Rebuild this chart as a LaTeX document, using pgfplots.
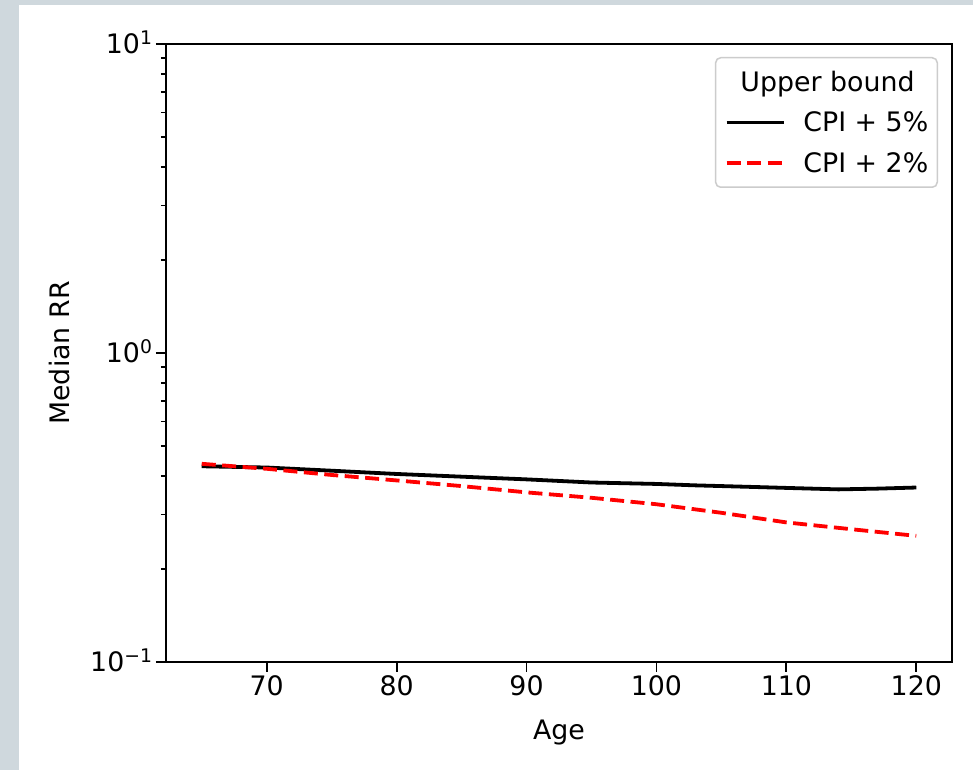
\documentclass[border=0pt]{standalone}
\usepackage{fontspec}
\setmainfont{DejaVu Sans}
\usepackage{pgfplots}
\pgfplotsset{compat=1.18}
\definecolor{sideband}{RGB}{207,216,221}
\definecolor{legedge}{RGB}{204,204,204}

\begin{document}
\begin{tikzpicture}
  % page background: grey strips on top and left, white elsewhere
  \fill[sideband] (-166pt,-108pt) rectangle (807pt,662pt);
  \fill[white] (-147pt,-108pt) rectangle (807pt,657pt);
  \useasboundingbox (-166pt,-108pt) rectangle (807pt,662pt);
  \begin{axis}[
      at={(0pt,0pt)}, anchor=south west,
      scale only axis, width=786pt, height=618pt,
      font=\fontsize{26.8}{32}\selectfont,
      xmin=62.25, xmax=122.75,
      ymode=log, ymin=0.1, ymax=10,
      xtick={70,80,90,100,110,120},
      ytick={0.1,1,10},
      yticklabels={10\textsuperscript{−1},10\textsuperscript{0},10\textsuperscript{1}},
      minor ytick={0.2,0.3,0.4,0.5,0.6,0.7,0.8,0.9,2,3,4,5,6,7,8,9},
      /pgf/number format/assume math mode=true,
      tick align=outside, tick pos=left,
      major tick length=10pt, minor tick length=5pt,
      every tick/.style={black, line width=1.8pt},
      axis line style={line width=1.8pt},
      yticklabel style={anchor=base east, yshift=-9.8pt},
      xlabel={Age}, ylabel={Median RR},
      every axis x label/.style={at={(axis description cs:0.5,0)}, anchor=base, yshift=-77pt},
      every axis y label/.style={at={(axis description cs:-0.1361,0.5)}, rotate=90, anchor=center},
      legend cell align=left,
      legend image code/.code={\draw[#1] (0pt,0pt) -- (57pt,0pt);},
      legend style={at={(1,1)}, anchor=north east, xshift=-14pt, yshift=-13pt,
        draw=legedge, line width=1.5pt, rounded corners=5pt, fill=white,
        inner xsep=9pt, inner ysep=15pt, row sep=22pt,
        nodes={inner sep=0pt, text height=18.5pt, text depth=0pt},
        /tikz/every odd column/.append style={column sep=18pt},
        font=\fontsize{26.8}{32}\selectfont},
    ]
    \addlegendimage{empty legend}
    \addlegendentry{\hspace*{-63pt}Upper bound}

    \addplot[black, line width=3.8pt] coordinates {
      (65,0.430) (70,0.426) (75,0.416) (80,0.406) (85,0.398) (90,0.390)
      (95,0.381) (100,0.377) (103,0.373) (105,0.371) (108,0.368) (110,0.366)
      (114,0.362) (117,0.364) (120,0.367)
    };
    \addlegendentry{CPI + 5\%}

    \addplot[red, line width=3.8pt, dash pattern=on 14pt off 6.5pt] coordinates {
      (65,0.438) (70,0.422) (75,0.403) (80,0.387) (85,0.371) (90,0.354)
      (95,0.340) (100,0.324) (105,0.304) (110,0.283) (115,0.269) (120,0.256)
    };
    \addlegendentry{CPI + 2\%}
  \end{axis}
\end{tikzpicture}
\end{document}
